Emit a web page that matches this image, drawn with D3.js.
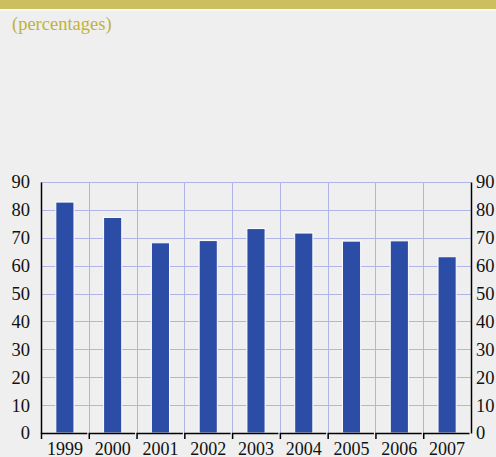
<!DOCTYPE html>
<html>
<head>
<meta charset="utf-8">
<script src="https://cdn.jsdelivr.net/npm/d3@7"></script>
<style>
  body { margin: 0; background: #efefef; }
  svg { display: block; }
  svg text { font-family: "Liberation Serif", "Times New Roman", Times, serif; }
</style>
</head>
<body>
<svg id="chart"></svg>
<script>
// chart data
const years = ["1999", "2000", "2001", "2002", "2003", "2004", "2005", "2006", "2007"];
const shares = [82.8, 77.3, 68.2, 69.0, 73.3, 71.7, 68.8, 68.9, 63.2];
const yTicks = [0, 10, 20, 30, 40, 50, 60, 70, 80, 90];

const W = 496, H = 457;
const margin = { top: 182, right: 25, bottom: 24, left: 41 };
const innerW = W - margin.left - margin.right;
const innerH = H - margin.top - margin.bottom;

const svg = d3.select("#chart")
    .attr("width", W)
    .attr("height", H)
    .style("background", "#efefef")

// top band
svg.append("rect").attr("x", 0).attr("y", 0).attr("width", W).attr("height", 9).attr("fill", "#cbbf5f")
svg.append("rect").attr("x", 0).attr("y", 9).attr("width", W).attr("height", 1.5).attr("fill", "#ffffff")

svg.append("text")
    .attr("x", 12)
    .attr("y", 30)
    .style("font-size", "18.5px")
    .style("fill", "#c2b236")
    .text("(percentages)")

const x = d3.scaleBand()
    .domain(years)
    .range([0, innerW])

const y = d3.scaleLinear()
    .domain([0, 90])
    .range([innerH, 0])

const g = svg.append("g")
    .attr("transform", `translate(${margin.left}, ${margin.top})`)

// gridlines
g.append("g")
    .selectAll("line")
    .data(yTicks.slice(1))
    .enter().append("line")
    .attr("x1", 0).attr("x2", innerW)
    .attr("y1", d => Math.round(y(d)) + 0.5)
    .attr("y2", d => Math.round(y(d)) + 0.5)
    .style("stroke", "#b0b4e6")

g.append("g")
    .selectAll("line")
    .data(years.slice(1))
    .enter().append("line")
    .attr("x1", d => Math.round(x(d)) + 0.5)
    .attr("x2", d => Math.round(x(d)) + 0.5)
    .attr("y1", 0).attr("y2", innerH)
    .style("stroke", "#b0b4e6")

// bars
const barW = x.bandwidth() * 0.38;
g.append("g")
    .selectAll("rect")
    .data(shares)
    .enter().append("rect")
    .attr("x", (d, i) => x(years[i]) + (x.bandwidth() - barW) / 2)
    .attr("y", d => y(d))
    .attr("width", barW)
    .attr("height", d => innerH - y(d))
    .style("fill", "#2c4da6")
    .style("stroke", "#ffffff")
    .style("stroke-width", 1)

// left axis
const left = g.append("g").call(d3.axisLeft(y).tickValues(yTicks).tickSize(0).tickPadding(11))
left.select(".domain").attr("stroke", "#000").attr("stroke-width", 1.5)
left.selectAll("text").style("font-size", "18.5px").style("fill", "#111")

// right axis
const right = g.append("g")
    .attr("transform", `translate(${innerW}, 0)`)
    .call(d3.axisRight(y).tickValues(yTicks).tickSize(0).tickPadding(5))
right.select(".domain").attr("stroke", "#000").attr("stroke-width", 1.5)
right.selectAll("text").style("font-size", "18.5px").style("fill", "#111")
left.attr("font-family", null)
right.attr("font-family", null)

// bottom axis: one bracket per category
const bottom = g.append("g").attr("transform", `translate(0, ${innerH})`)
bottom.selectAll("path")
    .data(years)
    .enter().append("path")
    .attr("d", d => `M${x(d) + 0.5},${6}V0.5H${x(d) + x.bandwidth() - 1.5}`)
    .style("fill", "none")
    .style("stroke", "#000")
    .style("stroke-width", 1.5)

bottom.selectAll("text")
    .data(years)
    .enter().append("text")
    .attr("x", d => x(d) + x.bandwidth() / 2)
    .attr("y", 22)
    .attr("text-anchor", "middle")
    .style("font-size", "18px")
    .style("fill", "#111")
    .text(d => d)
</script>
</body>
</html>
